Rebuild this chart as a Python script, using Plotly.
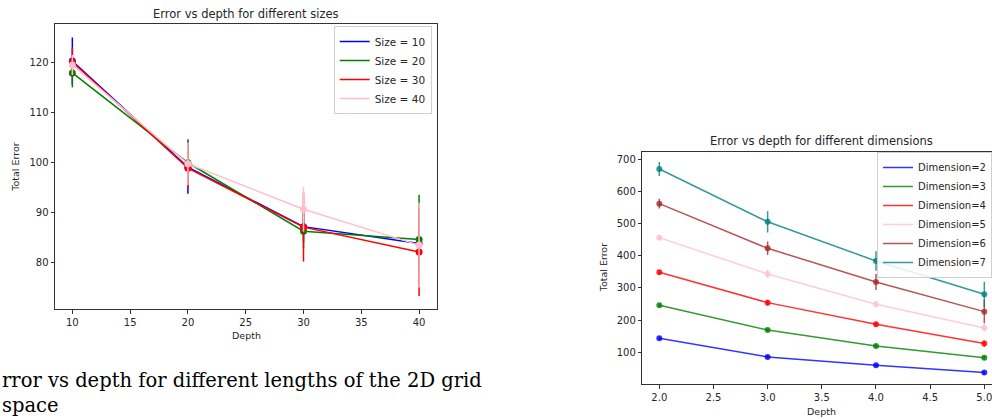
import plotly.graph_objects as go

W, H = 992, 419

# ---------------- data: left chart (sizes) ----------------
depths_size = [10, 20, 30, 40]
size_labels = ["Size = 10", "Size = 20", "Size = 30", "Size = 40"]
size10_err = [120.3, 99.0, 87.1, 83.7]
size20_err = [117.9, 99.9, 86.2, 84.5]
size30_err = [120.1, 98.8, 87.0, 82.0]
size40_err = [119.5, 99.7, 90.6, 83.4]
size10_std = [4.7, 5.3, 3.0, 6.0]
size20_std = [2.9, 4.7, 3.5, 9.0]
size30_std = [2.9, 3.9, 6.9, 8.8]
size40_std = [2.0, 4.3, 4.5, 8.5]
size_colors = ["blue", "green", "red", "pink"]

# ---------------- data: right chart (dimensions) ----------------
depths_dim = [2, 3, 4, 5]
dim_labels = ["Dimension=2", "Dimension=3", "Dimension=4",
              "Dimension=5", "Dimension=6", "Dimension=7"]
dim2_err = [143.5, 85.5, 59.7, 37.0]
dim3_err = [245.9, 169.3, 119.7, 83.5]
dim4_err = [348.3, 254.2, 187.0, 127.0]
dim5_err = [455.9, 343.1, 249.0, 175.5]
dim6_err = [561.4, 422.8, 318.3, 226.2]
dim7_err = [669.0, 505.0, 383.5, 280.0]
dim2_std = [5, 5, 5, 4]
dim3_std = [5, 5, 6, 6]
dim4_std = [7, 9, 8, 10]
dim5_std = [8, 14, 10, 12]
dim6_std = [15, 21, 25, 36]
dim7_std = [22, 33, 30, 39]
dim_colors = ["rgba(0,0,255,0.8)", "rgba(0,128,0,0.8)", "rgba(255,0,0,0.8)",
              "rgba(255,192,203,0.8)", "rgba(165,42,42,0.8)", "rgba(0,128,128,0.8)"]

size_vals = [size10_err, size20_err, size30_err, size40_err]
size_stds = [size10_std, size20_std, size30_std, size40_std]
dim_vals = [dim2_err, dim3_err, dim4_err, dim5_err, dim6_err, dim7_err]
dim_stds = [dim2_std, dim3_std, dim4_std, dim5_std, dim6_std, dim7_std]

FONT = "DejaVu Sans"
TXT = "#262626"

fig = go.Figure()

# left chart traces
for lab, v, s, c in zip(size_labels, size_vals, size_stds, size_colors):
    fig.add_trace(go.Scatter(
        x=depths_size, y=v, mode="lines+markers",
        line=dict(color=c, width=1.5), marker=dict(color=c, size=7),
        error_y=dict(type="data", array=s, visible=True, color=c, thickness=1.5, width=0),
        xaxis="x", yaxis="y", showlegend=False, hoverinfo="skip"))
for lab, c in zip(size_labels, size_colors):
    fig.add_trace(go.Scatter(
        x=[None], y=[None], mode="lines", name=lab, line=dict(color=c, width=1.5),
        xaxis="x", yaxis="y", legend="legend", showlegend=True))

# right chart traces
for lab, v, s, c in zip(dim_labels, dim_vals, dim_stds, dim_colors):
    fig.add_trace(go.Scatter(
        x=depths_dim, y=v, mode="lines+markers",
        line=dict(color=c, width=1.5), marker=dict(color=c, size=6),
        error_y=dict(type="data", array=s, visible=True, color=c, thickness=1.5, width=0),
        xaxis="x2", yaxis="y2", showlegend=False, hoverinfo="skip"))
for lab, c in zip(dim_labels, dim_colors):
    fig.add_trace(go.Scatter(
        x=[None], y=[None], mode="lines", name=lab, line=dict(color=c, width=1.5),
        xaxis="x2", yaxis="y2", legend="legend2", showlegend=True))

axis_common = dict(showgrid=False, zeroline=False, showline=True, linecolor="#333333",
                   linewidth=1, ticks="outside", ticklen=3.5, tickcolor="#333333",
                   automargin=False, ticklabeloverflow="allow",
                   tickfont=dict(family=FONT, size=10, color=TXT))

fig.update_layout(
    width=W, height=H,
    margin=dict(l=0, r=0, t=0, b=0, pad=0, autoexpand=False),
    paper_bgcolor="white", plot_bgcolor="white",
    xaxis=dict(domain=[55 / W, 437 / W], range=[8.5, 41.55], anchor="y",
               tickvals=[10, 15, 20, 25, 30, 35, 40], mirror=True, **axis_common),
    yaxis=dict(domain=[1 - 309 / H, 1 - 24 / H], range=[70.6, 127.7], anchor="x",
               tickvals=[80, 90, 100, 110, 120], mirror=True, **axis_common),
    xaxis2=dict(domain=[642.3 / W, 1.0], range=[1.843, 5.071], anchor="y2",
                tickvals=[2.0, 2.5, 3.0, 3.5, 4.0, 4.5, 5.0],
                ticktext=["2.0", "2.5", "3.0", "3.5", "4.0", "4.5", "5.0"],
                mirror=True, **axis_common),
    yaxis2=dict(domain=[1 - 384.3 / H, 1 - 151.7 / H], range=[0.7, 722.7], anchor="x2",
                tickvals=[100, 200, 300, 400, 500, 600, 700], mirror=False, **axis_common),
    legend=dict(x=431.7 / W, xanchor="right", y=1 - 26 / H, yanchor="top",
                bgcolor="rgba(255,255,255,0.85)", bordercolor="#d0d0d0", borderwidth=1,
                font=dict(family=FONT, size=10.5, color=TXT), tracegroupgap=0,
                traceorder="normal"),
    legend2=dict(x=877 / W, xanchor="left", y=1 - 152 / H, yanchor="top",
                 bgcolor="rgba(255,255,255,0.85)", bordercolor="#d0d0d0", borderwidth=1,
                 font=dict(family=FONT, size=10, color=TXT), tracegroupgap=0,
                 traceorder="normal"),
)

ann = [
    dict(text="Error vs depth for different sizes", x=246 / W, y=1 - 14 / H,
         font=dict(family=FONT, size=11.5, color=TXT)),
    dict(text="Depth", x=246 / W, y=1 - 335.7 / H, font=dict(family=FONT, size=9.5, color=TXT)),
    dict(text="Total Error", x=15.7 / W, y=1 - 167 / H, textangle=-90,
         font=dict(family=FONT, size=9.5, color=TXT)),
    dict(text="Error vs depth for different dimensions", x=821.7 / W, y=1 - 140.7 / H,
         font=dict(family=FONT, size=11.5, color=TXT)),
    dict(text="Depth", x=821.7 / W, y=1 - 411.7 / H, font=dict(family=FONT, size=9.5, color=TXT)),
    dict(text="Total Error", x=603.3 / W, y=1 - 268 / H, textangle=-90,
         font=dict(family=FONT, size=9.5, color=TXT)),
]
annotations = []
for a in ann:
    d = dict(xref="paper", yref="paper", showarrow=False, xanchor="center", yanchor="middle")
    d.update(a)
    annotations.append(d)
annotations.append(dict(
    text="rror vs depth for different lengths of the 2D grid<br>space",
    xref="paper", yref="paper", x=0, y=1 - 367 / H, xanchor="left", yanchor="top",
    align="left", showarrow=False,
    font=dict(family="DejaVu Serif", size=19.5, color="black")))
fig.update_layout(annotations=annotations)

fig.write_html("out.html", config={"displayModeBar": False},
               post_script="document.body.style.margin='0px';document.body.style.overflow='hidden';")
